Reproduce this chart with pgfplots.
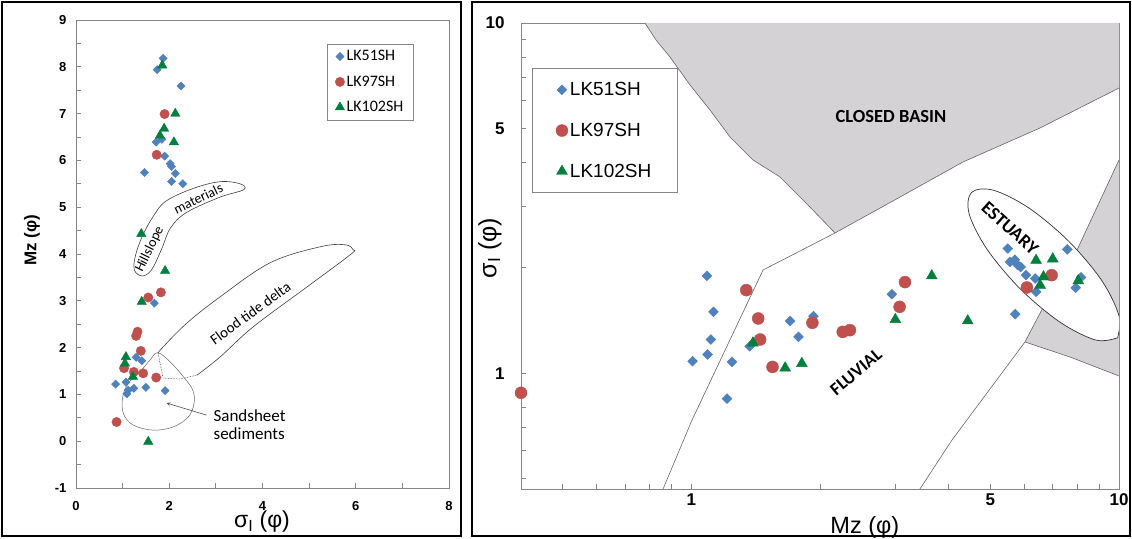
\documentclass[border=0pt]{standalone}
\usepackage{fontspec}
\setmainfont{Liberation Sans}
\newfontfamily\carl{Carlito}
\usepackage{pgfplots}
\pgfplotsset{compat=1.18}
\definecolor{sblue}{RGB}{79,129,189}
\definecolor{sred}{RGB}{192,80,77}
\definecolor{sgreen}{RGB}{0,128,60}
\definecolor{sgrey}{RGB}{212,210,212}
\definecolor{axgrey}{RGB}{134,134,134}

% Left panel: sorting sigma (x) vs Mz (y)
\pgfplotstableread{
x y
1.87 8.18
1.74 7.94
2.25 7.59
1.72 6.39
1.84 6.45
1.90 6.09
2.02 5.93
2.05 5.87
2.13 5.72
1.47 5.74
2.05 5.55
2.29 5.50
1.68 2.95
1.29 1.79
1.41 1.72
0.85 1.22
1.07 1.26
1.12 1.09
1.09 1.01
1.24 1.13
1.50 1.15
1.91 1.08
}\LAfiftyone
\pgfplotstableread{
x y
1.90 6.99
1.73 6.12
1.82 3.18
1.55 3.07
1.32 2.34
1.29 2.25
1.39 1.93
1.03 1.56
1.24 1.48
1.44 1.45
1.72 1.36
0.87 0.41
}\LAninetyseven
\pgfplotstableread{
x y
1.85 8.03
2.13 7.00
1.89 6.68
1.80 6.53
2.10 6.39
1.40 4.43
1.91 3.64
1.41 2.98
1.07 1.80
1.05 1.66
1.22 1.38
1.55 -0.01
}\LAonetwo

% Right panel: Mz (x) vs sigma (y), log-log
\pgfplotstableread{
x y
1.088 1.897
1.127 1.497
1.112 1.248
1.092 1.131
1.007 1.082
1.245 1.077
1.212 0.846
1.369 1.194
1.703 1.410
1.781 1.270
1.931 1.455
2.944 1.681
5.495 2.270
5.56 2.08
5.71 2.11
5.79 2.04
5.89 2.01
6.06 1.905
6.37 1.864
6.40 1.708
7.57 2.257
8.15 1.877
7.92 1.753
5.72 1.474
}\RAfiftyone
\pgfplotstableread{
x y
0.40 0.879
1.345 1.727
1.434 1.433
1.449 1.248
1.549 1.042
1.92 1.393
2.26 1.312
2.35 1.327
3.07 1.547
3.16 1.820
6.09 1.757
6.96 1.905
}\RAninetyseven
\pgfplotstableread{
x y
1.394 1.220
1.658 1.035
1.814 1.066
3.00 1.423
3.65 1.897
4.43 1.411
6.40 2.10
7.00 2.12
6.66 1.884
6.54 1.784
8.03 1.836
}\RAonetwo

\begin{document}
\begin{tikzpicture}
\useasboundingbox (0pt,0pt) rectangle (1132pt,538pt);
\draw[line width=2pt] (2pt,2pt) rectangle (461pt,536pt);
\draw[line width=2pt] (472pt,2pt) rectangle (1130pt,536pt);

%================ LEFT =================
\begin{axis}[
  at={(76pt,50pt)}, anchor=south west, scale only axis,
  width=373pt, height=468pt,
  xmin=0, xmax=8, ymin=-1, ymax=9,
  xtick={0,2,4,6,8}, xticklabels={0,2,4,6,8},
  ytick={-1,0,...,9}, yticklabels={-1,0,1,2,3,4,5,6,7,8,9},
  minor xtick={1,3,5,7}, minor ytick={-0.5,0.5,...,8.5},
  tick align=inside, xtick pos=bottom, ytick pos=left,
  major tick length=5pt, minor tick length=5pt,
  axis line style={axgrey, line width=0.9pt},
  tick style={axgrey, line width=0.8pt},
  ticklabel style={font=\bfseries\fontsize{13}{13}\selectfont},
  xticklabel style={yshift=-10pt},
  yticklabel style={xshift=-6pt},
  xlabel={σ\textsubscript{I} (φ)},
  ylabel={\bfseries Mz (φ)},
  xlabel style={font=\fontsize{23}{23}\selectfont, at={(axis description cs:0.4987,-0.0726)}, anchor=center},
  ylabel style={font=\fontsize{17}{17}\selectfont, at={(axis description cs:-0.118,0.53)}, anchor=center},
  legend style={at={(axis description cs:0.673,0.949)}, anchor=north west, draw=axgrey,
    font=\carl\fontsize{16}{16}\selectfont, row sep=9.5pt, inner xsep=8pt, inner ysep=4.5pt,
    cells={anchor=west}},
  legend image code/.code={\draw[mark repeat=2,mark phase=2,#1] plot coordinates {(0pt,0pt) (7pt,0pt) (12pt,0pt)};},
]
% Hillslope materials
\draw[black!75, line width=0.6pt] plot[smooth cycle, tension=0.6] coordinates {
 (axis cs:1.250,3.662) (axis cs:1.280,3.983) (axis cs:1.430,4.395) (axis cs:1.660,4.810)
 (axis cs:1.930,5.130) (axis cs:2.511,5.400) (axis cs:3.090,5.545) (axis cs:3.519,5.500)
 (axis cs:3.600,5.375) (axis cs:3.090,5.215) (axis cs:2.376,4.890) (axis cs:2.030,4.560)
 (axis cs:1.830,4.090) (axis cs:1.620,3.662) (axis cs:1.420,3.530)};
\node[font=\carl\fontsize{14}{14}\selectfont, rotate=64] at (axis cs:1.58,4.10) {Hillslope};
\node[font=\carl\fontsize{14}{14}\selectfont, rotate=26] at (axis cs:2.62,5.18) {materials};
% Flood tide delta
\draw[black!75, line width=0.6pt] plot[smooth, tension=0.6] coordinates {
 (axis cs:1.760,1.884) (axis cs:1.867,2.013) (axis cs:2.382,2.527) (axis cs:3.090,3.084)
 (axis cs:4.163,3.812) (axis cs:5.236,4.154) (axis cs:5.773,4.197) (axis cs:5.944,4.090)
 (axis cs:5.880,3.983) (axis cs:4.957,3.298) (axis cs:3.798,2.441) (axis cs:3.090,1.799)
 (axis cs:2.597,1.413)};
\draw[black!75, line width=0.6pt, densely dotted] (axis cs:2.597,1.413) -- (axis cs:2.232,1.328) -- (axis cs:1.867,1.349) -- (axis cs:1.760,1.884);
\node[font=\carl\fontsize{15}{15}\selectfont, rotate=36] at (axis cs:3.74,2.74) {Flood tide delta};
% Sandsheet sediments
\draw[black!60, line width=0.5pt] plot[smooth cycle, tension=0.6] coordinates {
 (axis cs:1.753,1.891) (axis cs:2.017,1.698) (axis cs:2.303,1.377) (axis cs:2.504,1.092)
 (axis cs:2.532,0.807) (axis cs:2.410,0.520) (axis cs:2.088,0.306) (axis cs:1.659,0.236)
 (axis cs:1.230,0.343) (axis cs:1.015,0.593) (axis cs:1.002,0.949) (axis cs:1.122,1.236)
 (axis cs:1.373,1.484) (axis cs:1.588,1.734)};
\draw[black!70, line width=0.6pt, -stealth] (axis cs:2.80,0.557) -- (axis cs:1.946,0.814);
\node[font=\carl\fontsize{17}{18}\selectfont, anchor=west, align=left] at (axis cs:2.876,0.343) {Sandsheet\\sediments};

\addplot[only marks, mark=square*, mark size=2.9pt, mark options={rotate=45, fill=sblue, draw=sblue}] table {\LAfiftyone};
\addplot[only marks, mark=*, mark size=4.7pt, mark options={fill=sred, draw=sred}] table {\LAninetyseven};
\addplot[only marks, mark=triangle*, mark size=5.4pt, mark options={fill=sgreen, draw=sgreen}] table {\LAonetwo};
\legend{LK51SH,LK97SH,LK102SH}
\end{axis}

%================ RIGHT =================
\begin{axis}[
  at={(521pt,49pt)}, anchor=south west, scale only axis,
  width=598pt, height=466pt,
  xmode=log, ymode=log,
  xmin=0.4, xmax=10, ymin=0.467, ymax=10,
  xtick={1,5,10}, xticklabels={1,5,10},
  ytick={1,5,10}, yticklabels={1,5,10},
  minor xtick={0.5,0.6,0.7,0.8,0.9,2,3,4,6,7,8,9},
  minor ytick={0.5,0.6,0.7,0.8,0.9,2,3,4,6,7,8,9},
  tick align=inside, xtick pos=bottom, ytick pos=left,
  major tick length=5pt, minor tick length=5pt,
  axis line style={axgrey, line width=0.9pt},
  tick style={axgrey, line width=0.8pt},
  ticklabel style={font=\bfseries\fontsize{17}{17}\selectfont},
  xticklabel style={yshift=-1pt},
  yticklabel style={xshift=-13pt},
  xlabel={Mz (φ)},
  ylabel={σ\textsubscript{I} (φ)},
  xlabel style={font=\fontsize{23.5}{23.5}\selectfont, at={(axis description cs:0.575,-0.0815)}, anchor=center},
  ylabel style={font=\fontsize{25}{25}\selectfont, at={(axis description cs:-0.0518,0.517)}, anchor=center},
  legend style={at={(axis description cs:0.018,0.903)}, anchor=north west, draw=axgrey,
    font=\fontsize{19}{19}\selectfont, row sep=22pt, inner xsep=24pt, inner ysep=12pt,
    cells={anchor=west}},
  legend image code/.code={\draw[mark repeat=2,mark phase=2,#1] plot coordinates {(0pt,0pt) (5pt,0pt) (6pt,0pt)};},
]
% Closed basin field
\addplot[fill=sgrey, draw=none, forget plot] coordinates {
 (0.7797,10) (0.8274,8.942) (0.8922,7.994) (0.9934,6.655) (1.1064,5.643) (1.2321,4.726)
 (1.3946,4.063) (1.6127,3.634) (1.8451,3.083) (2.1682,2.5142) (3.0768,3.1846)
 (4.3184,4.0100) (6.5370,5.0142) (10,6.5225) (10,10)} -- cycle;
\addplot[black!60, line width=0.6pt, forget plot] coordinates {
 (0.7797,10) (0.8274,8.942) (0.8922,7.994) (0.9934,6.655) (1.1064,5.643) (1.2321,4.726)
 (1.3946,4.063) (1.6127,3.634) (1.8451,3.083) (2.1682,2.5142)};
% Fluvial left boundary and closed basin lower boundary
\addplot[black!60, line width=0.6pt, forget plot] coordinates {
 (0.8593,0.467) (1.0043,0.7350) (1.4719,1.9712) (2.1682,2.5142) (3.0768,3.1846)
 (4.3184,4.0100) (6.5370,5.0142) (10,6.5225)};
% Right grey wedge
\addplot[fill=sgrey, draw=none, forget plot] coordinates {
 (6.0290,1.2281) (6.7868,1.6185) (7.9774,2.2475) (10,4.0630) (10,0.9818) (7.6826,1.1124)} -- cycle;
\addplot[black!60, line width=0.6pt, forget plot] coordinates {
 (3.4250,0.467) (4.0704,0.6447) (6.0290,1.2281) (6.7868,1.6185) (7.9774,2.2475) (10,4.0630)};
\addplot[black!60, line width=0.6pt, forget plot] coordinates {
 (6.0290,1.2281) (7.6826,1.1124) (10,0.9818)};
% Estuary ellipse
\addplot[smooth, tension=0.55, fill=white, draw=black!80, line width=0.7pt, forget plot] coordinates {
 (9.925,1.2621) (8.828,1.2434) (7.293,1.3968) (5.888,1.7369) (4.923,2.2522) (4.467,2.8412)
 (4.520,3.2810) (5.082,3.3311) (6.152,2.9648) (7.622,2.3846) (9.113,1.8390) (10,1.4578) (9.925,1.2621)} -- cycle;
\node[font=\carl\bfseries\fontsize{18.5}{18.5}\selectfont] at (axis cs:2.9307,5.391) {CLOSED BASIN};
\node[font=\carl\bfseries\fontsize{18}{18}\selectfont, rotate=40] at (axis cs:2.4275,1.008) {FLUVIAL};
\node[font=\carl\bfseries\fontsize{18.5}{18.5}\selectfont, rotate=-42] at (axis cs:5.5638,2.5974) {ESTUARY};

\addplot[only marks, mark=square*, mark size=3.5pt, mark options={rotate=45, fill=sblue, draw=sblue}] table {\RAfiftyone};
\addplot[only marks, mark=*, mark size=6pt, mark options={fill=sred, draw=sred}] table {\RAninetyseven};
\addplot[only marks, mark=triangle*, mark size=6.3pt, mark options={fill=sgreen, draw=sgreen}] table {\RAonetwo};
\legend{LK51SH,LK97SH,LK102SH}
\end{axis}
\end{tikzpicture}
\end{document}
